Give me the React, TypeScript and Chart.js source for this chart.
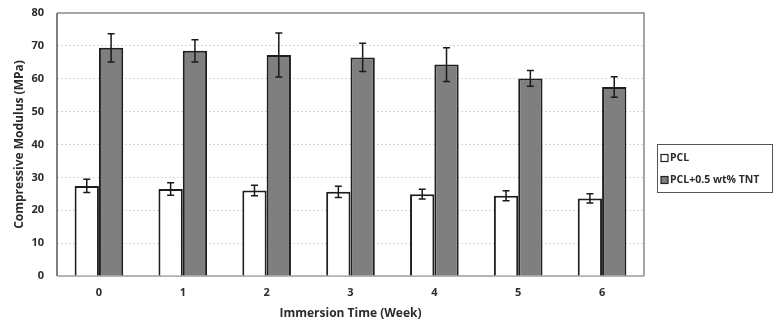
import React, { useEffect, useRef } from "react";
import { Chart, registerables } from "chart.js";

Chart.register(...registerables);

const weeks = ["0", "1", "2", "3", "4", "5", "6"];
const pclValues = [27.4, 26.5, 26.0, 25.6, 24.9, 24.4, 23.6];
const pclErrors = [2.0, 1.9, 1.6, 1.7, 1.5, 1.5, 1.4];
const tntValues = [69.4, 68.5, 67.2, 66.5, 64.3, 60.1, 57.5];
const tntErrors = [4.3, 3.4, 6.7, 4.3, 5.1, 2.4, 3.1];
const legendLabels = ["PCL", "PCL+0.5 wt% TNT"];
const yTitle = "Compressive Modulus (MPa)";
const xTitle = "Immersion Time (Week)";

const FONT = "'Open Sans', sans-serif";
const TEXT = "#2b2b2b";

const errorBarPlugin = {
  id: "errorBars",
  afterDatasetsDraw(chart: any) {
    const ctx = chart.ctx;
    const y = chart.scales.y;
    ctx.save();
    ctx.strokeStyle = "#1a1a1a";
    ctx.lineWidth = 1.5;
    chart.data.datasets.forEach((ds: any, di: number) => {
      const meta = chart.getDatasetMeta(di);
      const errs = ds.errors as number[];
      meta.data.forEach((bar: any, i: number) => {
        const v = ds.data[i];
        const e = errs[i];
        const x = bar.x;
        const yt = y.getPixelForValue(v + e);
        const yb = y.getPixelForValue(v - e);
        ctx.beginPath();
        ctx.moveTo(x, yt);
        ctx.lineTo(x, yb);
        ctx.moveTo(x - 3.5, yt);
        ctx.lineTo(x + 3.5, yt);
        ctx.moveTo(x - 3.5, yb);
        ctx.lineTo(x + 3.5, yb);
        ctx.stroke();
      });
    });
    ctx.restore();
  },
};

const framePlugin = {
  id: "frame",
  beforeDatasetsDraw(chart: any) {
    const { ctx, chartArea: a } = chart;
    ctx.save();
    ctx.strokeStyle = "#8a8a8a";
    ctx.lineWidth = 1.5;
    ctx.beginPath();
    ctx.moveTo(a.left, a.top);
    ctx.lineTo(a.right, a.top);
    ctx.lineTo(a.right, a.bottom);
    ctx.stroke();
    ctx.strokeStyle = "#555555";
    ctx.beginPath();
    ctx.moveTo(a.left, a.top);
    ctx.lineTo(a.left, a.bottom);
    ctx.stroke();
    ctx.strokeStyle = "#9a9a9a";
    ctx.beginPath();
    ctx.moveTo(a.left, a.bottom);
    ctx.lineTo(a.right, a.bottom);
    ctx.stroke();
    ctx.restore();
  },
  afterDraw(chart: any) {
    const { ctx } = chart;
    const bx = 657.5, by = 144.5, bw = 115, bh = 48;
    ctx.save();
    ctx.strokeStyle = "#555555";
    ctx.lineWidth = 1;
    ctx.strokeRect(bx, by, bw, bh);
    const fills = ["#ffffff", "#7f7f7f"];
    const ys = [158, 180];
    ctx.font = `bold 10.5px ${FONT}`;
    ctx.textBaseline = "middle";
    legendLabels.forEach((lab, i) => {
      ctx.fillStyle = fills[i];
      ctx.fillRect(661, ys[i] - 3.5, 7, 7);
      ctx.strokeStyle = "#222";
      ctx.lineWidth = 1.2;
      ctx.strokeRect(661, ys[i] - 3.5, 7, 7);
      ctx.fillStyle = TEXT;
      ctx.fillText(lab, 670, ys[i] + 0.5);
    });
    ctx.restore();
  },
};

export default function App() {
  const ref = useRef<HTMLCanvasElement>(null);
  useEffect(() => {
    document.body.style.margin = "0";
    const chart = new Chart(ref.current!, {
      type: "bar",
      data: {
        labels: weeks,
        datasets: [
          {
            label: legendLabels[0],
            data: pclValues,
            errors: pclErrors,
            backgroundColor: "#ffffff",
            borderColor: "#1e1e1e",
            borderWidth: 2,
            categoryPercentage: 0.58,
            barPercentage: 1,
          } as any,
          {
            label: legendLabels[1],
            data: tntValues,
            errors: tntErrors,
            backgroundColor: "#7f7f7f",
            borderColor: "#1e1e1e",
            borderWidth: 2,
            categoryPercentage: 0.58,
            barPercentage: 1,
          } as any,
        ],
      },
      options: {
        responsive: false,
        animation: false,
        layout: { padding: { top: 13, right: 130, left: 0, bottom: 0 } },
        plugins: { legend: { display: false }, tooltip: { enabled: false } },
        scales: {
          x: {
            grid: { display: false, drawTicks: false },
            border: { display: false },
            ticks: { color: TEXT, font: { family: FONT, size: 11, weight: "bold" }, padding: 10 },
            title: {
              display: true,
              text: xTitle,
              color: TEXT,
              font: { family: FONT, size: 12, weight: "bold" },
              padding: { top: 0, bottom: -1 },
            },
            afterFit(scale: any) {
              scale.height = 44;
            },
          },
          y: {
            min: 0,
            max: 80,
            ticks: { stepSize: 10, color: TEXT, font: { family: FONT, size: 11, weight: "bold" }, padding: 0 },
            grid: {
              drawTicks: true,
              tickLength: 13,
              tickColor: "rgba(0,0,0,0)",
              color: (c: any) => (c.tick && (c.tick.value === 0 || c.tick.value === 80) ? "rgba(0,0,0,0)" : "#d6d6d6"),
              lineWidth: 1,
            },
            border: { display: false, dash: [2, 2] },
            title: {
              display: true,
              text: yTitle,
              color: TEXT,
              font: { family: FONT, size: 12, weight: "bold" },
              padding: { top: 12, bottom: 0 },
            },
            afterFit(scale: any) {
              scale.width = 57;
            },
          },
        },
      },
      plugins: [framePlugin, errorBarPlugin],
    });
    return () => chart.destroy();
  }, []);
  return (
    <div style={{ position: "absolute", left: 0, top: 0, width: 774, height: 320, background: "#fff" }}>
      <canvas ref={ref} width={774} height={320} />
    </div>
  );
}
